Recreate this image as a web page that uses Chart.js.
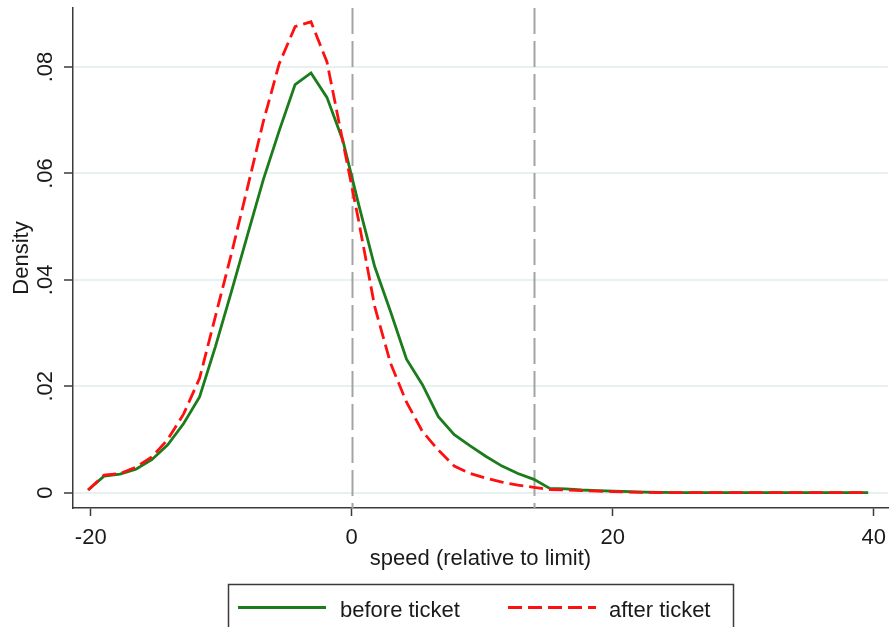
<!DOCTYPE html>
<html>
<head>
<meta charset="utf-8">
<script src="https://cdn.jsdelivr.net/npm/chart.js@4/dist/chart.umd.min.js"></script>
<style>
html,body{margin:0;padding:0;background:#fff;}
canvas{display:block;}
</style>
</head>
<body>
<canvas id="c" width="890" height="627"></canvas>
<script>
// ---- data ----
const speedGrid = [-20.20, -18.98, -17.76, -16.54, -15.32, -14.10, -12.88, -11.66, -10.44, -9.22,
  -8.00, -6.78, -5.56, -4.34, -3.12, -1.90, -0.68, 0.54, 1.76, 2.98,
  4.20, 5.42, 6.64, 7.86, 9.08, 10.30, 11.52, 12.74, 13.96, 15.18,
  16.40, 17.62, 18.84, 20.06, 21.28, 22.50, 23.72, 24.94, 26.16, 27.38,
  28.60, 29.82, 31.04, 32.26, 33.48, 34.70, 35.92, 37.14, 38.36, 39.58];

const beforeTicket = [0.0005, 0.0031, 0.0035, 0.0044, 0.0062, 0.0090, 0.0130, 0.0180, 0.0275, 0.0378,
  0.0483, 0.0588, 0.0680, 0.0767, 0.0789, 0.0743, 0.0662, 0.0541, 0.0425, 0.0340,
  0.0251, 0.0203, 0.0143, 0.0109, 0.0088, 0.0068, 0.0050, 0.0036, 0.0025, 0.0008,
  0.0007, 0.0005, 0.0004, 0.0003, 0.0002, 0.0001, 0.00005, 0, 0, 0,
  0, 0, 0, 0, 0, 0, 0, 0, 0, 0];

const afterTicket = [0.0005, 0.0033, 0.0036, 0.0048, 0.0067, 0.0100, 0.0148, 0.0215, 0.0332, 0.0449,
  0.0572, 0.0697, 0.0806, 0.0876, 0.0885, 0.0810, 0.0660, 0.0510, 0.0350, 0.0243,
  0.0170, 0.0115, 0.0080, 0.0050, 0.0036, 0.0027, 0.0020, 0.0014, 0.0010, 0.0006,
  0.0005, 0.0004, 0.0003, 0.0002, 0.0001, 0.00005, 0, 0, 0, 0,
  0, 0, 0, 0, 0, 0, 0, 0, 0, 0];

const seriesNames = ['before ticket', 'after ticket'];
const xTicks = [-20, 0, 20, 40];
const xTickLabels = ['-20', '0', '20', '40'];
const yTicks = [0, 0.02, 0.04, 0.06, 0.08];
const yTickLabels = ['0', '.02', '.04', '.06', '.08'];
const refLines = [0, 14];
const xTitle = 'speed (relative to limit)';
const yTitle = 'Density';

// ---- styling ----
const FONT = '"Liberation Sans", Arial, Helvetica, sans-serif';
const GREEN = '#1a7c1a';
const RED = '#ff1010';
const AXIS = '#3a3a3a';
const GRID = '#e8f0f1';
Chart.defaults.font.family = FONT;
Chart.defaults.color = '#1a1a1a';

const refLinePlugin = {
  id: 'refLines',
  beforeDatasetsDraw(chart) {
    const {ctx, chartArea, scales} = chart;
    ctx.save();
    ctx.strokeStyle = '#a3a3a3';
    ctx.lineWidth = 2;
    ctx.setLineDash([26, 7]);
    refLines.forEach(v => {
      const px = Math.round(scales.x.getPixelForValue(v)) + 0.5;
      ctx.beginPath();
      ctx.moveTo(px, chartArea.top);
      ctx.lineTo(px, chartArea.bottom);
      ctx.stroke();
    });
    ctx.restore();
  }
};

const legendBoxPlugin = {
  id: 'legendBox',
  afterDraw(chart, args, o) {
    const ctx = chart.ctx;
    ctx.save();
    ctx.strokeStyle = AXIS;
    ctx.lineWidth = 1.5;
    ctx.strokeRect(o.x, o.y, o.w, o.h);
    chart.data.datasets.forEach((ds, i) => {
      const it = o.items[i];
      ctx.beginPath();
      ctx.setLineDash(ds.borderDash || []);
      ctx.strokeStyle = ds.borderColor;
      ctx.lineWidth = ds.borderWidth;
      ctx.moveTo(it.x0, o.lineY);
      ctx.lineTo(it.x1, o.lineY);
      ctx.stroke();
      ctx.setLineDash([]);
      ctx.fillStyle = '#1a1a1a';
      ctx.font = '22px ' + FONT;
      ctx.textAlign = 'left';
      ctx.textBaseline = 'alphabetic';
      ctx.fillText(ds.label, it.tx, o.textY);
    });
    ctx.restore();
  }
};

new Chart(document.getElementById('c'), {
  type: 'scatter',
  data: {
    datasets: [
      {
        label: seriesNames[0],
        data: speedGrid.map((x, i) => ({x, y: beforeTicket[i]})),
        showLine: true, borderColor: GREEN, backgroundColor: GREEN,
        borderWidth: 2.8, pointRadius: 0, tension: 0, order: 1
      },
      {
        label: seriesNames[1],
        data: speedGrid.map((x, i) => ({x, y: afterTicket[i]})),
        showLine: true, borderColor: RED, backgroundColor: RED,
        borderWidth: 2.8, borderDash: [14, 6], pointRadius: 0, tension: 0, order: 0
      }
    ]
  },
  options: {
    responsive: false,
    animation: false,
    devicePixelRatio: 1,
    layout: {padding: {left: 0, right: 2, top: 8, bottom: 54}},
    plugins: {
      legend: {display: false},
      tooltip: {enabled: false},
      legendBox: {
        x: 228.5, y: 584.5, w: 505, h: 60, lineY: 607.5, textY: 616.5,
        items: [{x0: 238, x1: 326, tx: 340}, {x0: 508, x1: 596, tx: 609}]
      }
    },
    scales: {
      x: {
        type: 'linear',
        min: -21.36, max: 41.1,
        afterBuildTicks: s => { s.ticks = xTicks.map(v => ({value: v})); },
        afterFit: s => { s.height = 65; s.paddingLeft = 0; s.paddingRight = 0; },
        border: {color: AXIS, width: 1.5},
        grid: {drawOnChartArea: false, tickLength: 8, tickColor: AXIS, tickWidth: 1.5},
        ticks: {
          font: {size: 22}, padding: 9, minRotation: 0, maxRotation: 0, autoSkip: false,
          callback: (v, i) => xTickLabels[i]
        },
        title: {display: true, text: xTitle, font: {size: 22}, padding: {top: 0, bottom: 1}}
      },
      y: {
        type: 'linear',
        min: -0.00288, max: 0.0911,
        afterBuildTicks: s => { s.ticks = yTicks.map(v => ({value: v})); },
        afterFit: s => { s.width = 73; s.paddingTop = 0; s.paddingBottom = 0; },
        border: {color: AXIS, width: 1.5},
        grid: {color: GRID, lineWidth: 2, tickLength: 9, tickColor: AXIS, tickWidth: 1.5},
        ticks: {
          font: {size: 22}, padding: 3, minRotation: 90, maxRotation: 90, crossAlign: 'center', autoSkip: false,
          callback: (v, i) => yTickLabels[i]
        },
        title: {display: true, text: yTitle, font: {size: 22}, padding: {top: 9, bottom: 0}}
      }
    }
  },
  plugins: [refLinePlugin, legendBoxPlugin]
});
</script>
</body>
</html>
